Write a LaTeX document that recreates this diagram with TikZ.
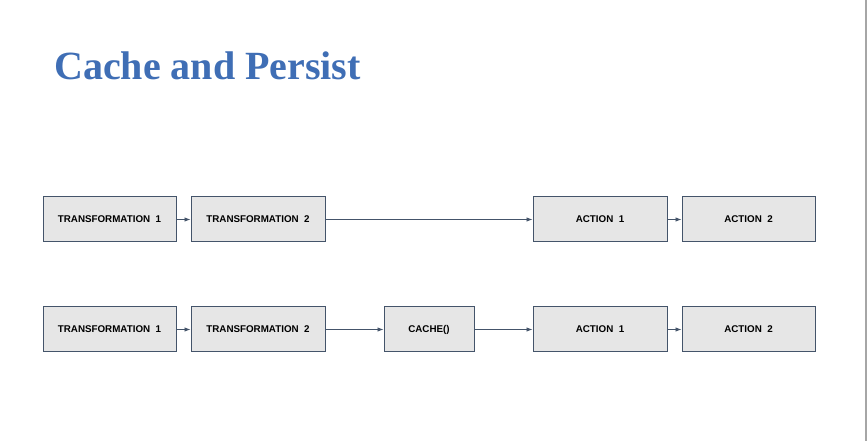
\documentclass[tikz,border=0pt]{standalone}
\usepackage{fontspec}
\setmainfont{Liberation Serif}
\newfontfamily\boxfont{Liberation Sans}
\usetikzlibrary{arrows.meta}
\definecolor{edgec}{HTML}{44546A}
\definecolor{fillc}{HTML}{E6E6E6}
\definecolor{titlec}{HTML}{3F6EB5}
\definecolor{rulec}{HTML}{A6A6A6}
\tikzset{
  x=1pt,y=1pt,
  procbox/.style={draw=edgec,fill=fillc,line width=1pt,minimum height=45pt,inner sep=0pt,
    font=\boxfont\bfseries\fontsize{9.8}{11}\selectfont,text=black},
  conn/.style={draw=edgec,line width=0.9pt,-{Latex[length=6pt,width=4.5pt]}}
}
\begin{document}
\begin{tikzpicture}
\useasboundingbox (0,0) rectangle (868,441);
\fill[white] (0,0) rectangle (868,441);
\draw[rulec,line width=2pt] (866,0) -- (866,441);
\node[anchor=base west,text=titlec,font=\bfseries\fontsize{40}{44}\selectfont,inner sep=0pt] (title) at (54,361) {Cache and Persist};
% row 1
\node[procbox,minimum width=133pt] (t1a) at (109.5,221.5) {TRANSFORMATION~~1};
\node[procbox,minimum width=134pt] (t2a) at (258,221.5) {TRANSFORMATION~~2};
\node[procbox,minimum width=134pt] (a1a) at (600,221.5) {ACTION~~1};
\node[procbox,minimum width=133pt] (a2a) at (748.5,221.5) {ACTION~~2};
% row 2
\node[procbox,minimum width=133pt] (t1b) at (109.5,111.5) {TRANSFORMATION~~1};
\node[procbox,minimum width=134pt] (t2b) at (258,111.5) {TRANSFORMATION~~2};
\node[procbox,minimum width=90pt] (cb) at (429,111.5) {CACHE()};
\node[procbox,minimum width=134pt] (a1b) at (600,111.5) {ACTION~~1};
\node[procbox,minimum width=133pt] (a2b) at (748.5,111.5) {ACTION~~2};
\draw[conn] (t1a) -- (t2a);
\draw[conn] (t2a) -- (a1a);
\draw[conn] (a1a) -- (a2a);
\draw[conn] (t1b) -- (t2b);
\draw[conn] (t2b) -- (cb);
\draw[conn] (cb) -- (a1b);
\draw[conn] (a1b) -- (a2b);
\end{tikzpicture}
\end{document}
